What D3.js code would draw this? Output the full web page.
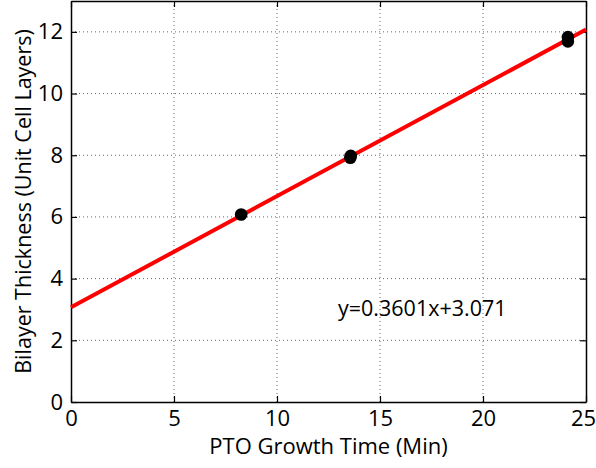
<!DOCTYPE html>
<html>
<head>
<meta charset="utf-8">
<script src="https://cdn.jsdelivr.net/npm/d3@7"></script>
<style>
  body { margin: 0; background: #fff; }
  svg { display: block; }
</style>
</head>
<body>
<div id="chart"></div>
<script>
// measured points (growth time in min, thickness in unit cell layers)
const growthTime = [8.26, 13.56, 13.58, 24.12, 24.12];
const thickness = [6.08, 7.92, 7.98, 11.69, 11.83];

// linear fit
const slope = 0.3601;
const intercept = 3.071;
const fitRange = [0, 25];

const xTicks = [0, 5, 10, 15, 20, 25];
const yTicks = [0, 2, 4, 6, 8, 10, 12];

const width = 596;
const height = 468;
const margin = { t: 1, r: 10, b: 66, l: 71 };
const font = "'Open Sans', sans-serif";

const svg = d3
  .select('#chart')
  .append('svg')
  .attr('width', width)
  .attr('height', height);

const x = d3.scaleLinear().domain([0, 25]).range([margin.l, width - margin.r]);
const y = d3.scaleLinear().domain([0, 13]).range([height - margin.b, margin.t]);

// grid
const grid = svg.append('g').attr('stroke', '#666').attr('stroke-width', 1).attr('stroke-dasharray', '1,3');
grid
  .selectAll('.gx')
  .data(xTicks.slice(1, -1))
  .join('line')
  .attr('x1', (d) => x(d))
  .attr('x2', (d) => x(d))
  .attr('y1', y(0))
  .attr('y2', y(13));
grid
  .selectAll('.gy')
  .data(yTicks.slice(1))
  .join('line')
  .attr('x1', x(0))
  .attr('x2', x(25))
  .attr('y1', (d) => y(d))
  .attr('y2', (d) => y(d));

// axes, ticks pointing in
const styleAxis = (g) => {
  g.selectAll('.domain').attr('stroke', '#000').attr('stroke-width', 1.5);
  g.selectAll('.tick line').attr('stroke', '#000').attr('stroke-width', 1.2);
  g.selectAll('text').attr('font-family', font).attr('font-size', 22).attr('fill', '#000');
};

const xAxis = svg
  .append('g')
  .attr('transform', `translate(0,${y(0)})`)
  .call(d3.axisBottom(x).tickValues(xTicks).tickSizeInner(-6).tickSizeOuter(0).tickPadding(8))
  .call(styleAxis);
// keep the last label inside the window
xAxis.selectAll('.tick text').filter((d) => d === 25).attr('dx', -3);

svg
  .append('g')
  .attr('transform', `translate(0,${y(13)})`)
  .call(d3.axisTop(x).tickValues(xTicks).tickSizeInner(-6).tickSizeOuter(0).tickFormat(''))
  .call(styleAxis);

svg
  .append('g')
  .attr('transform', `translate(${x(0)},0)`)
  .call(d3.axisLeft(y).tickValues(yTicks).tickSizeInner(-6).tickSizeOuter(0).tickPadding(8))
  .call(styleAxis);

svg
  .append('g')
  .attr('transform', `translate(${x(25)},0)`)
  .call(d3.axisRight(y).tickValues(yTicks).tickSizeInner(-6).tickSizeOuter(0).tickFormat(''))
  .call(styleAxis);

// fit line
svg
  .append('line')
  .attr('x1', x(fitRange[0]))
  .attr('y1', y(slope * fitRange[0] + intercept))
  .attr('x2', x(fitRange[1]))
  .attr('y2', y(slope * fitRange[1] + intercept))
  .attr('stroke', '#ff0000')
  .attr('stroke-width', 4);

// data points
svg
  .append('g')
  .selectAll('circle')
  .data(growthTime)
  .join('circle')
  .attr('cx', (d) => x(d))
  .attr('cy', (d, i) => y(thickness[i]))
  .attr('r', 6.3)
  .attr('fill', '#000');

// equation
svg
  .append('text')
  .attr('x', 338)
  .attr('y', 316)
  .attr('font-family', font)
  .attr('font-size', 21.5)
  .text(`y=${slope}x+${intercept}`);

// axis labels
svg
  .append('text')
  .attr('x', (x(0) + x(25)) / 2)
  .attr('y', 454)
  .attr('text-anchor', 'middle')
  .attr('font-family', font)
  .attr('font-size', 22)
  .text('PTO Growth Time (Min)');

svg
  .append('text')
  .attr('transform', `translate(31,${(y(0) + y(13)) / 2}) rotate(-90)`)
  .attr('text-anchor', 'middle')
  .attr('font-family', font)
  .attr('font-size', 21.5)
  .text('Bilayer Thickness (Unit Cell Layers)');
</script>
</body>
</html>
